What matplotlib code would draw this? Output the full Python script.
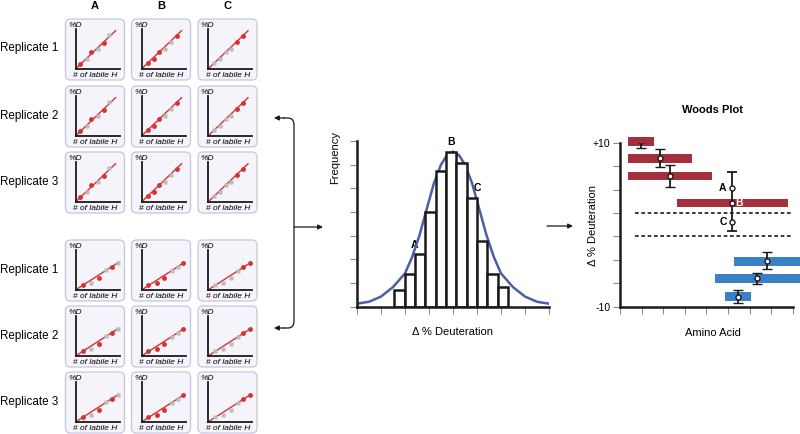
import numpy as np
import matplotlib
matplotlib.use('Agg')
import matplotlib.pyplot as plt
from matplotlib.patches import FancyBboxPatch, PathPatch
from matplotlib.path import Path

plt.rcParams['font.family'] = ['Liberation Sans', 'DejaVu Sans']

# ---- data -------------------------------------------------------------
columns = ['A', 'B', 'C']
replicates = ['Replicate 1', 'Replicate 2', 'Replicate 3']

# top block (steep uptake) - per column, fraction of labile H vs %D
top_red_x = [[0.11, 0.36, 0.64], [0.15, 0.29, 0.40, 0.80], [0.67, 0.80]]
top_red_y = [[0.12, 0.38, 0.60], [0.13, 0.22, 0.38, 0.75], [0.61, 0.75]]
top_gray_x = [[0.25, 0.52, 0.77], [0.53, 0.67], [0.13, 0.27, 0.40, 0.53]]
top_gray_y = [[0.22, 0.46, 0.78], [0.46, 0.61], [0.13, 0.23, 0.38, 0.46]]
top_fit_end = [0.91, 0.87]

# bottom block (shallow uptake)
bot_red_x = [[0.16, 0.53, 0.82], [0.15, 0.35, 0.52, 0.95], [0.80, 0.95]]
bot_red_y = [[0.12, 0.28, 0.53], [0.12, 0.17, 0.28, 0.61], [0.53, 0.61]]
bot_gray_x = [[0.36, 0.70, 0.97], [0.70, 0.82], [0.15, 0.35, 0.53, 0.68]]
bot_gray_y = [[0.17, 0.45, 0.61], [0.44, 0.53], [0.12, 0.17, 0.28, 0.44]]
bot_fit_end = [0.98, 0.63]

# histogram of delta %D
bin_centers = [1.77, 2.20, 2.63, 3.06, 3.49, 3.92, 4.35, 4.78, 5.21, 5.64, 6.07]
bin_counts = [0.71, 1.38, 2.23, 4.01, 5.74, 6.54, 6.07, 4.57, 2.79, 1.39, 0.82]
curve_x = [0, 0.5, 1.0, 1.5, 2.0, 2.3, 2.6, 2.9, 3.2, 3.5, 3.75, 4.0,
           4.25, 4.5, 4.8, 5.1, 5.4, 5.7, 6.0, 6.5, 7.0, 7.5, 8.0]
curve_y = [0.12, 0.20, 0.42, 0.82, 1.40, 2.10, 3.00, 4.10, 5.20, 6.00, 6.40, 6.55,
           6.40, 6.00, 5.20, 4.10, 3.00, 2.10, 1.40, 0.82, 0.42, 0.20, 0.12]

# woods plot
pep_start = [0.39, 0.39, 0.39, 2.65, 5.29, 4.40, 4.86]
pep_end = [1.59, 3.35, 4.26, 7.78, 8.40, 8.40, 6.08]
pep_dd = [10.17, 8.11, 5.94, 2.67, -4.46, -6.54, -8.73]
err_x = [0.97, 1.85, 2.31, 6.80, 6.35, 5.46]
err_y = [10.2, 8.13, 5.94, -4.39, -6.54, -8.78]
err_size = [0.8, 1.07, 1.36, 1.06, 0.71, 0.77]
abc_x = 5.18
abc_y = [4.51, 2.68, 0.37]
abc_err = [3.7, 3.5]
sig_lines = [1.43, -1.43]
woods_yticks = [-10, -7.14, -4.29, -1.43, 1.43, 4.29, 7.14, 10]
woods_ylabels = ['-10', '', '', '', '', '', '', '+10']

# ---- style ------------------------------------------------------------
W, H = 800, 434
red_pt = '#d8312f'
gray_pt = '#bcbcbc'
box_face = '#f4f4fa'
box_edge = '#c6c6e0'
bar_red = '#a5303d'
bar_blue = '#3a80c6'
curve_col = '#4b5ea8'
tick_col = '#8a8a8a'
ink = '#1a1a1a'

fig = plt.figure(figsize=(8, 4.34), dpi=100)


def px_rect(x0, y0, w, h):
    return [x0 / W, 1 - (y0 + h) / H, w / W, h / H]


ov = fig.add_axes([0, 0, 1, 1])
ov.set_xlim(0, W)
ov.set_ylim(H, 0)
ov.set_axis_off()

# ---- replicate panels -------------------------------------------------
col_left = [65.5, 131.5, 198]
row_top = [19, 86, 152, 240, 306, 372]
box_w, box_h = 59, 61

for c, name in enumerate(columns):
    ov.text(col_left[c] + box_w / 2, 6, name, ha='center', va='center',
            fontsize=8, weight='bold')

groups = [(top_red_x, top_red_y, top_gray_x, top_gray_y, top_fit_end),
          (bot_red_x, bot_red_y, bot_gray_x, bot_gray_y, bot_fit_end)]

for g, (rx, ry, gx, gy, fit) in enumerate(groups):
    for r in range(3):
        top = row_top[g * 3 + r]
        ov.text(0.5, top + box_h / 2 - 1, replicates[r], ha='left', va='center', fontsize=8.4)
        for c in range(3):
            left = col_left[c]
            ov.add_patch(FancyBboxPatch((left, top), box_w, box_h,
                                        boxstyle='round,pad=0,rounding_size=5',
                                        fc=box_face, ec=box_edge, lw=0.9))
            ov.text(left + 2.5, top + 6.5, '%D', style='italic', fontsize=6,
                    ha='left', va='center')
            ov.text(left + box_w / 2 + 0.5, top + 56.5, '# of labile H', style='italic',
                    fontsize=6, ha='center', va='center')
            m = fig.add_axes(px_rect(left + 10, top + 10, 44, 40))
            m.patch.set_visible(False)
            m.set_xlim(0, 1)
            m.set_ylim(0, 40 / 44)
            m.set_xticks([])
            m.set_yticks([])
            for s in ['top', 'right']:
                m.spines[s].set_visible(False)
            for s in ['left', 'bottom']:
                m.spines[s].set_linewidth(1.3)
                m.spines[s].set_color(ink)
            m.plot([0, fit[0]], [0, fit[1]], color=red_pt, lw=1.0, zorder=2)
            m.plot(gx[c], gy[c], 's', color=gray_pt, ms=3.0, mec='none', zorder=3, clip_on=False)
            m.plot(rx[c], ry[c], 'o', color=red_pt, ms=3.5, mec='none', zorder=4, clip_on=False)

# ---- arrows / bracket -------------------------------------------------
arrow_kw = dict(arrowstyle='-|>', color=ink, lw=0.9, mutation_scale=7,
                shrinkA=0, shrinkB=0)
verts = [(283, 118), (288, 118), (294, 118), (294, 125), (294, 321),
         (294, 328), (288, 328), (283, 328)]
codes = [Path.MOVETO, Path.LINETO, Path.CURVE3, Path.CURVE3, Path.LINETO,
         Path.CURVE3, Path.CURVE3, Path.LINETO]
ov.add_patch(PathPatch(Path(verts, codes), fc='none', ec=ink, lw=0.9))
ov.annotate('', xy=(274, 118), xytext=(284, 118), arrowprops=arrow_kw)
ov.annotate('', xy=(274, 328), xytext=(284, 328), arrowprops=arrow_kw)
ov.annotate('', xy=(323, 227), xytext=(294, 227), arrowprops=arrow_kw)
ov.annotate('', xy=(573, 226), xytext=(547, 226), arrowprops=arrow_kw)

# ---- histogram --------------------------------------------------------
hx = fig.add_axes(px_rect(357, 141, 192, 165.5))
hx.patch.set_visible(False)
hx.plot(curve_x, curve_y, color=curve_col, lw=1.8, zorder=1, solid_capstyle='round')
hx.bar(bin_centers, bin_counts, width=0.43, color='white', edgecolor=ink, lw=1.8, zorder=2)
hx.set_xlim(0, 8)
hx.set_ylim(0, 7)
hx.set_xticks(range(9))
hx.set_yticks(range(8))
hx.set_xticklabels([])
hx.set_yticklabels([])
hx.tick_params(length=5, width=0.8, color=tick_col, direction='out')
for s in ['top', 'right']:
    hx.spines[s].set_visible(False)
for s in ['left', 'bottom']:
    hx.spines[s].set_linewidth(1.8)
    hx.spines[s].set_color(ink)
    hx.spines[s].set_zorder(3)

ov.text(335, 158, 'Frequency', rotation=90, ha='center', va='center', fontsize=8)
ov.text(453, 332, 'Δ % Deuteration', ha='center', va='center', fontsize=8)
ov.text(414, 245, 'A', ha='center', va='center', fontsize=7.5, weight='bold')
ov.text(451, 142, 'B', ha='center', va='center', fontsize=7.5, weight='bold')
ov.text(477, 188, 'C', ha='center', va='center', fontsize=7.5, weight='bold')

# ---- woods plot -------------------------------------------------------
wx = fig.add_axes(px_rect(620, 142.7, 172.7, 164))
wx.patch.set_visible(False)
widths = [e - s for s, e in zip(pep_start, pep_end)]
colors = [bar_red] * 4 + [bar_blue] * 3
wx.barh(pep_dd, widths, left=pep_start, height=1.05, color=colors, zorder=2, clip_on=False)
wx.hlines(sig_lines, [0.71, 0.71], [8.0, 7.9], colors=ink, lw=1.2,
          linestyles=[(0, (2.2, 1.6))], zorder=1)
wx.errorbar(err_x, err_y, yerr=err_size, fmt='o', color=ink, lw=1.3, capsize=3.3,
            capthick=1.3, ms=3.6, mfc='white', mec=ink, mew=1, zorder=4)
wx.errorbar([abc_x], [abc_y[1]], yerr=[[abc_err[1]], [abc_err[0]]], fmt='none',
            ecolor=ink, lw=1.3, capsize=3.3, capthick=1.3, zorder=4)
wx.plot([abc_x] * 3, abc_y, 'o', ms=3.6, mfc='white', mec=ink, mew=1, zorder=5)
wx.text(4.94, abc_y[0], 'A', ha='right', va='center', fontsize=7.5, weight='bold')
wx.text(4.94, abc_y[2], 'C', ha='right', va='center', fontsize=7.5, weight='bold')
wx.text(5.35, abc_y[1], 'B', ha='left', va='center', fontsize=7.5, weight='bold',
        color='white', zorder=6)
wx.set_xlim(0, 8)
wx.set_ylim(-10, 10)
wx.set_xticks(range(9))
wx.set_xticklabels([])
wx.set_yticks(woods_yticks)
wx.set_yticklabels(woods_ylabels, fontsize=7.5)
wx.tick_params(length=5, width=0.8, color=tick_col, direction='out', pad=2)
for s in ['top', 'right']:
    wx.spines[s].set_visible(False)
for s in ['left', 'bottom']:
    wx.spines[s].set_linewidth(1.8)
    wx.spines[s].set_color(ink)

ov.text(713, 110, 'Woods Plot', ha='center', va='center', fontsize=8, weight='bold')
ov.text(593, 225, 'Δ % Deuteration', rotation=90, ha='center', va='center', fontsize=8)
ov.text(713, 333, 'Amino Acid', ha='center', va='center', fontsize=8)

fig.savefig('out.png', dpi=100)
